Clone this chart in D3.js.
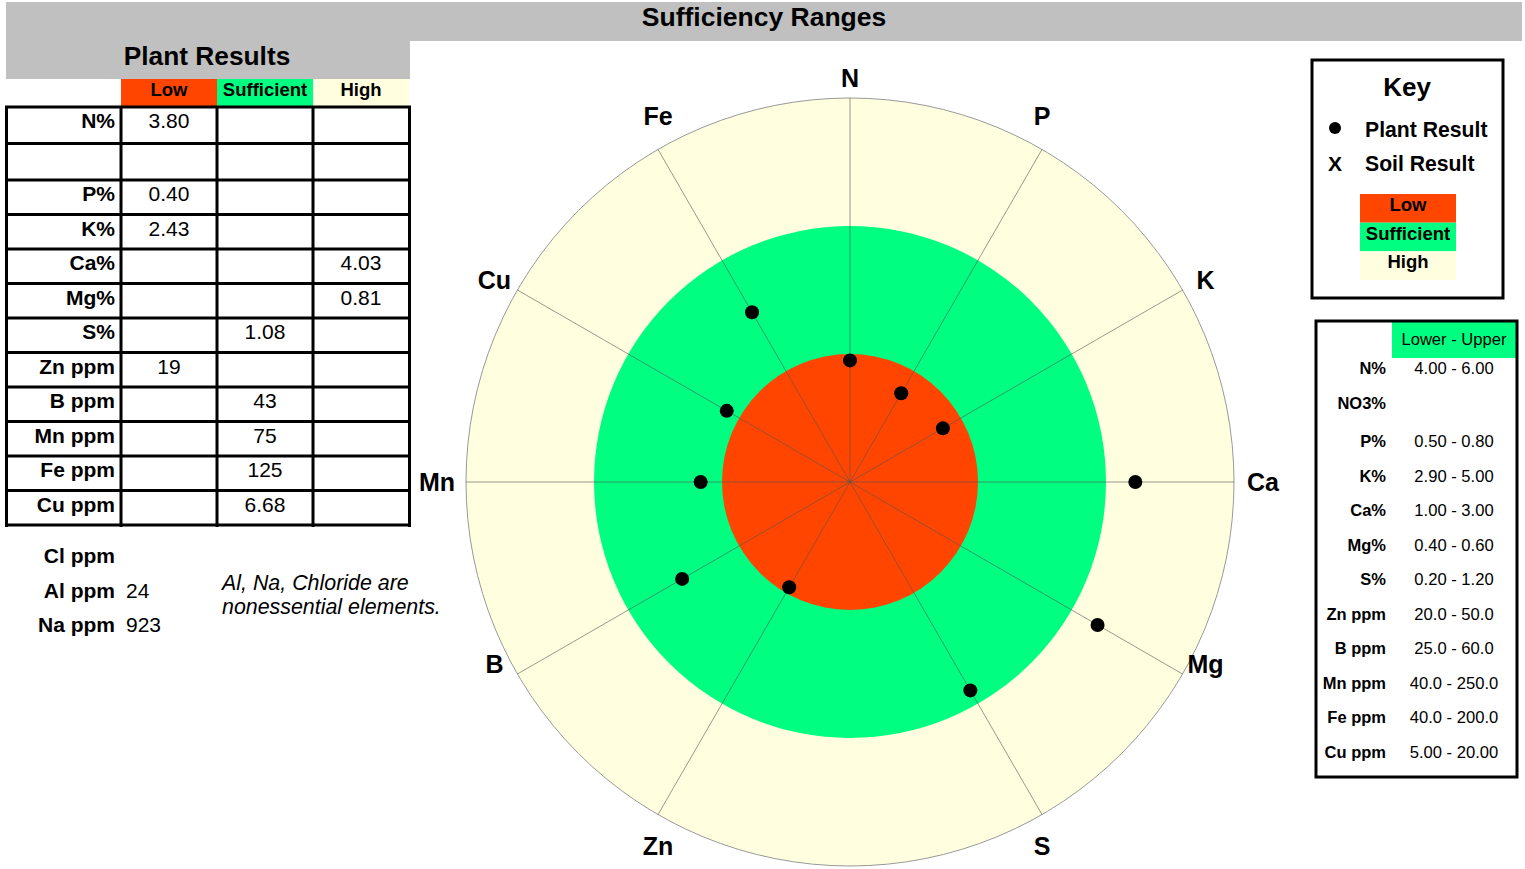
<!DOCTYPE html>
<html>
<head>
<meta charset="utf-8">
<script src="https://cdn.jsdelivr.net/npm/d3@7"></script>
<style>
  body { margin: 0; background: #fff; }
  svg text { font-family: "Liberation Sans", Arial, sans-serif; }
</style>
</head>
<body>
<svg id="chart" width="1525" height="869"></svg>
<script>
// plant results table (row order of the table)
const elements = ["N%", "", "P%", "K%", "Ca%", "Mg%", "S%", "Zn ppm", "B ppm", "Mn ppm", "Fe ppm", "Cu ppm"];
const results = [3.80, null, 0.40, 2.43, 4.03, 0.81, 1.08, 19, 43, 75, 125, 6.68];
const resultText = ["3.80", "", "0.40", "2.43", "4.03", "0.81", "1.08", "19", "43", "75", "125", "6.68"];

// sufficiency ranges
const rangeNames = ["N%", "NO3%", "P%", "K%", "Ca%", "Mg%", "S%", "Zn ppm", "B ppm", "Mn ppm", "Fe ppm", "Cu ppm"];
const lower = [4.00, null, 0.50, 2.90, 1.00, 0.40, 0.20, 20.0, 25.0, 40.0, 40.0, 5.00];
const upper = [6.00, null, 0.80, 5.00, 3.00, 0.60, 1.20, 50.0, 60.0, 250.0, 200.0, 20.00];
const rangeText = ["4.00 - 6.00", "", "0.50 - 0.80", "2.90 - 5.00", "1.00 - 3.00", "0.40 - 0.60",
  "0.20 - 1.20", "20.0 - 50.0", "25.0 - 60.0", "40.0 - 250.0", "40.0 - 200.0", "5.00 - 20.00"];

// spokes clockwise from the top, 12 slots (one left empty), pointing at table rows
const spokeLabels = ["N", "P", "K", "Ca", "Mg", "S", "", "Zn", "B", "Mn", "Cu", "Fe"];
const spokeRow = [0, 2, 3, 4, 5, 6, -1, 7, 8, 9, 11, 10];

const extraNames = ["Cl ppm", "Al ppm", "Na ppm"];
const extraValues = ["", "24", "923"];

const bands = ["Low", "Sufficient", "High"];
const bandColors = ["#ff4500", "#00ff80", "#ffffe0"];

const svg = d3.select("#chart");

// ---- banners
svg.append("rect").attr("x", 6).attr("y", 2).attr("width", 1516).attr("height", 39).attr("fill", "#c0c0c0");
svg.append("rect").attr("x", 6).attr("y", 2).attr("width", 404).attr("height", 77).attr("fill", "#c0c0c0");
svg.append("text").attr("x", 764).attr("y", 26).attr("text-anchor", "middle")
  .attr("font-size", 26.5).attr("font-weight", "bold").text("Sufficiency Ranges");
svg.append("text").attr("x", 207).attr("y", 65).attr("text-anchor", "middle")
  .attr("font-size", 26.3).attr("font-weight", "bold").text("Plant Results");

// ---- plant results table
const colX = d3.scaleBand().domain(bands).range([121, 409]);
// first two rows are a bit taller than the rest
const rowTop = i => i < 2 ? 107 + i * 36.5 : 180 + (i - 2) * 34.5;

svg.selectAll(".hdr").data(bands).enter().append("rect")
  .attr("x", d => colX(d)).attr("y", 79).attr("width", colX.bandwidth()).attr("height", 28)
  .attr("fill", (d, i) => bandColors[i]);
svg.selectAll(".hdrt").data(bands).enter().append("text")
  .attr("x", d => colX(d) + colX.bandwidth() / 2).attr("y", 96)
  .attr("text-anchor", "middle").attr("font-size", 18.5).attr("font-weight", "bold").text(d => d);

const status = results.map((v, i) => v == null ? null : v < lower[i] ? "Low" : v > upper[i] ? "High" : "Sufficient");

const tbl = svg.append("g");
elements.forEach((el, i) => {
  tbl.append("text").attr("x", 115).attr("y", rowTop(i) + 21).attr("text-anchor", "end")
    .attr("font-size", 21).attr("font-weight", "bold").text(el);
  if (status[i]) {
    tbl.append("text").attr("x", colX(status[i]) + colX.bandwidth() / 2).attr("y", rowTop(i) + 21)
      .attr("text-anchor", "middle").attr("font-size", 21).text(resultText[i]);
  }
});
// grid lines
const gridYs = elements.map((d, i) => rowTop(i)).concat([525]);
tbl.selectAll(".hl").data(gridYs).enter().append("line")
  .attr("x1", 5).attr("x2", 411).attr("y1", d => d).attr("y2", d => d)
  .attr("stroke", "#000").attr("stroke-width", 3);
tbl.selectAll(".vl").data([6.5, 121, 217, 313, 409.5]).enter().append("line")
  .attr("x1", d => d).attr("x2", d => d).attr("y1", 106).attr("y2", 527)
  .attr("stroke", "#000").attr("stroke-width", 3);

extraNames.forEach((n, i) => {
  svg.append("text").attr("x", 115).attr("y", 563 + i * 34.5).attr("text-anchor", "end")
    .attr("font-size", 21).attr("font-weight", "bold").text(n);
  svg.append("text").attr("x", 126).attr("y", 563 + i * 34.5)
    .attr("font-size", 21).text(extraValues[i]);
});
svg.append("text").attr("x", 222).attr("y", 590).attr("font-size", 21.4).attr("font-style", "italic")
  .text("Al, Na, Chloride are");
svg.append("text").attr("x", 222).attr("y", 614).attr("font-size", 21.4).attr("font-style", "italic")
  .text("nonessential elements.");

// ---- polar chart
const cx = 850, cy = 482;
const ringR = [128, 256, 384];
const angle = d3.scaleLinear().domain([0, spokeLabels.length]).range([0, 2 * Math.PI]);
const polar = svg.append("g").attr("transform", `translate(${cx},${cy})`);

polar.selectAll(".band").data(bands.slice().reverse()).enter().append("circle")
  .attr("r", (d, i) => ringR[2 - i])
  .attr("fill", (d, i) => bandColors[2 - i])
  .attr("stroke", (d, i) => i === 0 ? "#999" : "none").attr("stroke-width", 1);

const spokes = spokeLabels.map((l, i) => ({ label: l, row: spokeRow[i], a: angle(i) })).filter(d => d.row >= 0);

polar.selectAll(".spoke").data(spokes).enter().append("line")
  .attr("x1", 0).attr("y1", 0)
  .attr("x2", d => ringR[2] * Math.sin(d.a)).attr("y2", d => -ringR[2] * Math.cos(d.a))
  .attr("stroke", "#555").attr("stroke-opacity", 0.6).attr("stroke-width", 1);

// label placed off the end of its spoke, the way the original chart does it
function labelOffset(a) {
  const s = Math.sin(a), c = Math.cos(a), as = Math.abs(s);
  if (as < 0.1) return [0, c > 0 ? -20 : 20];
  if (as < 0.6) return [0, c > 0 ? -33 : 31];
  if (as < 0.95) return [Math.sign(s) * 23, -10];
  return [Math.sign(s) * 29, 0];
}
polar.selectAll(".lab").data(spokes).enter().append("text")
  .attr("x", d => ringR[2] * Math.sin(d.a) + labelOffset(d.a)[0])
  .attr("y", d => -ringR[2] * Math.cos(d.a) + labelOffset(d.a)[1] + 9)
  .attr("text-anchor", "middle").attr("font-size", 25).attr("font-weight", "bold").text(d => d.label);

polar.selectAll(".pt").data(spokes.filter(d => results[d.row] != null)).enter().append("circle")
  .attr("r", 7).attr("fill", "#000")
  .each(function (d) {
    const lo = lower[d.row], hi = upper[d.row];
    const rs = d3.scaleLinear().domain([0, lo, hi, hi * 2.5]).range([0, ringR[0], ringR[1], ringR[2]]).clamp(true);
    const r = rs(results[d.row]);
    d3.select(this).attr("cx", r * Math.sin(d.a)).attr("cy", -r * Math.cos(d.a));
  });

// ---- key box
const key = svg.append("g");
key.append("rect").attr("x", 1312).attr("y", 60).attr("width", 191).attr("height", 238)
  .attr("fill", "none").attr("stroke", "#000").attr("stroke-width", 3);
key.append("text").attr("x", 1407).attr("y", 96).attr("text-anchor", "middle")
  .attr("font-size", 26).attr("font-weight", "bold").text("Key");
key.append("circle").attr("cx", 1335).attr("cy", 128).attr("r", 6).attr("fill", "#000");
key.append("text").attr("x", 1365).attr("y", 137).attr("font-size", 21.2).attr("font-weight", "bold").text("Plant Result");
key.append("text").attr("x", 1335).attr("y", 171).attr("text-anchor", "middle")
  .attr("font-size", 21).attr("font-weight", "bold").text("X");
key.append("text").attr("x", 1365).attr("y", 171).attr("font-size", 21.2).attr("font-weight", "bold").text("Soil Result");
const keyY = d3.scaleBand().domain(bands).range([194, 280]);
key.selectAll(".kb").data(bands).enter().append("rect")
  .attr("x", 1360).attr("y", d => keyY(d)).attr("width", 96).attr("height", keyY.bandwidth())
  .attr("fill", (d, i) => bandColors[i]);
key.selectAll(".kt").data(bands).enter().append("text")
  .attr("x", 1408).attr("y", d => keyY(d) + 17).attr("text-anchor", "middle")
  .attr("font-size", 18.5).attr("font-weight", "bold").text(d => d);

// ---- ranges box
const rng = svg.append("g");
rng.append("rect").attr("x", 1392).attr("y", 322).attr("width", 124).attr("height", 36).attr("fill", "#00ff80");
rng.append("rect").attr("x", 1316).attr("y", 321).attr("width", 201).attr("height", 456)
  .attr("fill", "none").attr("stroke", "#000").attr("stroke-width", 3);
rng.append("text").attr("x", 1454).attr("y", 345).attr("text-anchor", "middle").attr("font-size", 16.6).text("Lower - Upper");
const rngMid = i => i < 2 ? 368 + i * 35 : 441 + (i - 2) * 34.5;
rangeNames.forEach((n, i) => {
  rng.append("text").attr("x", 1386).attr("y", rngMid(i) + 6).attr("text-anchor", "end")
    .attr("font-size", 16.5).attr("font-weight", "bold").text(n);
  rng.append("text").attr("x", 1454).attr("y", rngMid(i) + 6).attr("text-anchor", "middle")
    .attr("font-size", 16.6).text(rangeText[i]);
});
</script>
</body>
</html>
